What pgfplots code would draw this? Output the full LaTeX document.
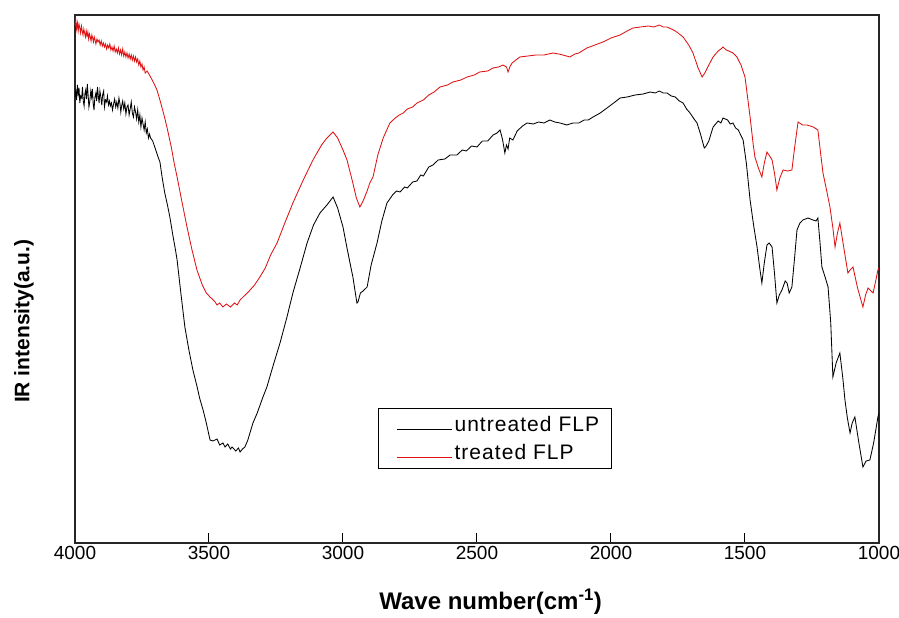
\documentclass[border=0pt]{standalone}
\usepackage{fontspec}
\setmainfont{Liberation Sans}
\usepackage{pgfplots}
\pgfplotsset{compat=1.18}
\definecolor{ired}{RGB}{222,18,18}
\begin{document}
\begin{tikzpicture}
\useasboundingbox (-75pt,-75pt) rectangle (824pt,543pt);
\begin{axis}[
 at={(0pt,0pt)}, anchor=south west,
 width=804pt, height=528pt, scale only axis,
 xmin=1000, xmax=4000, x dir=reverse,
 ymin=0, ymax=528,
 ytick=\empty,
 xtick={1000,1500,...,4000},
 xtick pos=bottom, tick align=inside,
 major tick length=10pt,
 axis line style={line width=1.2pt, draw=black!85},
 tick style={line width=1pt, black},
 /pgf/number format/1000 sep={},
 /pgf/number format/assume math mode=true,
 ticklabel style={font=\fontsize{19}{19}\selectfont},
 xlabel={\bfseries Wave number(cm\textsuperscript{-1})},
 ylabel={\bfseries IR intensity(a.u.)},
 xlabel style={font=\fontsize{24}{24}\selectfont, at={(axis description cs:0.517,-0.112)}, anchor=center},
 ylabel style={font=\fontsize{21}{21}\selectfont, at={(axis description cs:-0.0634,0.42)}, anchor=center},
 legend style={at={(rel axis cs:0.377,0.256)}, anchor=north west, draw=black, line width=1pt,
   font=\fontsize{21}{21}\selectfont\addfontfeature{LetterSpace=5}, cells={anchor=west},
   nodes={text height=16pt, text depth=2pt, inner ysep=3pt},
   row sep=4pt, inner xsep=10pt, inner ysep=4pt},
 legend image code/.code={\path (-8pt,5pt); \draw[#1, line width=1pt] (0pt,-5pt) -- (55pt,-5pt);},
 legend cell align=left,
]
\addplot[black, line width=0.85pt] coordinates {
(4000,446) (3997,452) (3994,443) (3991,458) (3988,449) (3985,455) (3982,440) (3979,447)
(3975,445) (3972,456) (3969,442) (3966,437) (3963,449) (3960,453) (3957,444) (3954,459)
(3951,448) (3948,436) (3945,441) (3941,452) (3938,446) (3935,454) (3932,439) (3929,433)
(3926,445) (3922,450) (3919,442) (3916,456) (3913,447) (3910,440) (3907,452) (3903,445)
(3900,438) (3897,448) (3893,452) (3890,436) (3886,443) (3882,441) (3879,447) (3875,438)
(3871,442) (3868,437) (3864,440) (3860,433) (3856,439) (3852,444) (3848,436) (3844,441)
(3840,435) (3836,445) (3832,439) (3829,431) (3826,437) (3822,442) (3818,434) (3814,440)
(3810,429) (3806,436) (3802,438) (3798,428) (3794,434) (3790,441) (3786,430) (3782,426)
(3778,436) (3774,431) (3770,424) (3766,433) (3762,421) (3758,428) (3754,416) (3750,425)
(3746,419) (3742,413) (3738,421) (3734,410) (3730,414) (3726,405) (3722,409) (3718,405)
(3710,402) (3700,394) (3690,386) (3683,381) (3675,366) (3665,350) (3655,338) (3646,326)
(3635,308) (3625,293) (3619,283) (3605,250) (3590,216) (3575,193) (3560,173) (3545,157)
(3535,145) (3522,133) (3510,120) (3496,103) (3485,102) (3470,104) (3460,98) (3448,100)
(3440,96) (3430,99) (3420,94) (3414,96) (3400,92) (3390,95) (3384,91) (3375,94) (3366,96)
(3355,103) (3345,112) (3336,120) (3320,130) (3300,145) (3284,156) (3260,178) (3235,200)
(3210,225) (3187,250) (3160,275) (3134,300) (3110,318) (3086,330) (3060,338) (3037,346)
(3020,335) (3000,316) (2985,295) (2970,275) (2963,266) (2955,252) (2948,240) (2944,241)
(2935,250) (2925,252) (2910,256) (2895,278) (2873,300) (2855,322) (2836,340) (2815,348)
(2800,352) (2787,351) (2770,356) (2760,355) (2740,361) (2724,362) (2710,368) (2700,367)
(2680,376) (2664,378) (2645,383) (2620,384) (2600,388) (2575,388) (2555,393) (2540,392)
(2520,397) (2500,396) (2480,402) (2460,402) (2440,408) (2425,410) (2414,413) (2405,404)
(2396,390) (2390,398) (2384,394) (2378,405) (2366,403) (2350,412) (2330,417) (2313,420)
(2290,419) (2270,421) (2250,420) (2228,423) (2210,421) (2190,420) (2165,418) (2142,420)
(2120,420) (2100,423) (2085,423) (2067,426) (2040,430) (2020,434) (1990,440) (1966,445)
(1940,446) (1910,448) (1880,449) (1854,451) (1835,450) (1820,452) (1805,450) (1791,450)
(1775,447) (1760,446) (1745,442) (1731,440) (1718,434) (1705,430) (1690,424) (1679,420)
(1665,408) (1652,395) (1645,397) (1635,402) (1619,416) (1600,422) (1590,420) (1582,425)
(1565,423) (1555,419) (1545,420) (1535,415) (1525,413) (1507,403) (1495,380) (1481,343)
(1468,318) (1455,296) (1445,275) (1437,260) (1428,280) (1418,298) (1410,300) (1399,296)
(1390,270) (1381,240) (1372,248) (1362,253) (1350,262) (1343,260) (1335,250) (1325,256)
(1315,285) (1306,313) (1295,320) (1284,323) (1265,325) (1246,323) (1235,322) (1228,325)
(1220,300) (1213,276) (1200,265) (1190,256) (1180,220) (1172,166) (1160,180) (1146,190)
(1135,165) (1127,143) (1118,125) (1108,110) (1100,120) (1090,126) (1075,100) (1060,76)
(1048,82) (1034,83) (1020,100) (1004,126) (1000,130)
};
\addlegendentry{untreated FLP}
\addplot[ired, line width=0.85pt] coordinates {
(4000,517) (3997,523) (3994,514) (3991,520) (3988,512) (3985,519) (3982,515) (3979,510)
(3976,517) (3973,512) (3970,508) (3967,514) (3964,510) (3961,506) (3958,512) (3955,507)
(3952,511) (3949,504) (3946,509) (3943,506) (3940,502) (3937,508) (3934,505) (3931,501)
(3928,506) (3925,503) (3922,499) (3918,504) (3914,501) (3910,503) (3906,498) (3902,502)
(3898,497) (3894,500) (3890,496) (3886,499) (3882,494) (3878,498) (3874,495) (3870,499)
(3866,493) (3862,496) (3858,492) (3854,497) (3850,491) (3846,494) (3842,490) (3838,495)
(3834,489) (3830,493) (3826,488) (3822,494) (3818,487) (3814,491) (3810,486) (3806,490)
(3802,485) (3798,489) (3794,484) (3790,488) (3786,483) (3782,487) (3778,482) (3774,486)
(3770,481) (3766,484) (3762,478) (3758,482) (3754,476) (3750,479) (3746,473) (3742,476)
(3738,470) (3731,472) (3720,467) (3706,460) (3694,453) (3680,440) (3668,428) (3657,416)
(3640,395) (3630,380) (3619,366) (3600,340) (3582,316) (3565,295) (3545,273) (3525,258)
(3510,250) (3496,246) (3480,242) (3470,238) (3460,240) (3448,236) (3435,239) (3420,236)
(3405,240) (3395,238) (3384,243) (3365,248) (3350,252) (3330,258) (3310,266) (3290,275)
(3270,288) (3246,300) (3220,318) (3187,340) (3150,362) (3112,383) (3080,398) (3060,405)
(3037,411) (3020,405) (3000,393) (2985,383) (2965,362) (2950,345) (2937,336) (2925,342)
(2910,352) (2900,360) (2888,366) (2870,388) (2850,405) (2825,420) (2805,425) (2790,428)
(2775,430) (2760,434) (2740,436) (2724,440) (2700,443) (2680,448) (2660,451) (2638,456)
(2610,458) (2590,461) (2560,463) (2537,466) (2510,468) (2490,471) (2460,472) (2440,475)
(2420,476) (2403,478) (2390,476) (2384,471) (2376,477) (2369,480) (2355,483) (2340,486)
(2310,487) (2280,488) (2250,488) (2216,490) (2195,489) (2180,488) (2153,486) (2135,489)
(2120,490) (2090,495) (2060,498) (2030,501) (2000,505) (1966,508) (1940,512) (1918,515)
(1890,516) (1860,517) (1840,516) (1820,518) (1805,516) (1791,516) (1775,514) (1760,512)
(1745,509) (1731,506) (1710,498) (1694,490) (1675,475) (1660,466) (1650,470) (1635,478)
(1619,486) (1600,492) (1590,494) (1582,496) (1570,493) (1560,492) (1545,490) (1530,486)
(1515,478) (1500,466) (1490,445) (1481,426) (1470,400) (1463,386) (1450,375) (1437,366)
(1428,380) (1418,391) (1408,387) (1399,383) (1390,370) (1381,353) (1370,365) (1358,373)
(1340,372) (1325,373) (1315,395) (1302,421) (1285,418) (1269,418) (1245,416) (1228,413)
(1218,390) (1209,370) (1195,352) (1183,336) (1172,315) (1164,296) (1155,310) (1146,320)
(1130,293) (1116,270) (1105,274) (1097,276) (1080,255) (1060,236) (1050,248) (1041,255)
(1030,252) (1022,250) (1010,265) (1004,273) (1000,275)
};
\addlegendentry{treated FLP}
\end{axis}
\end{tikzpicture}
\end{document}
